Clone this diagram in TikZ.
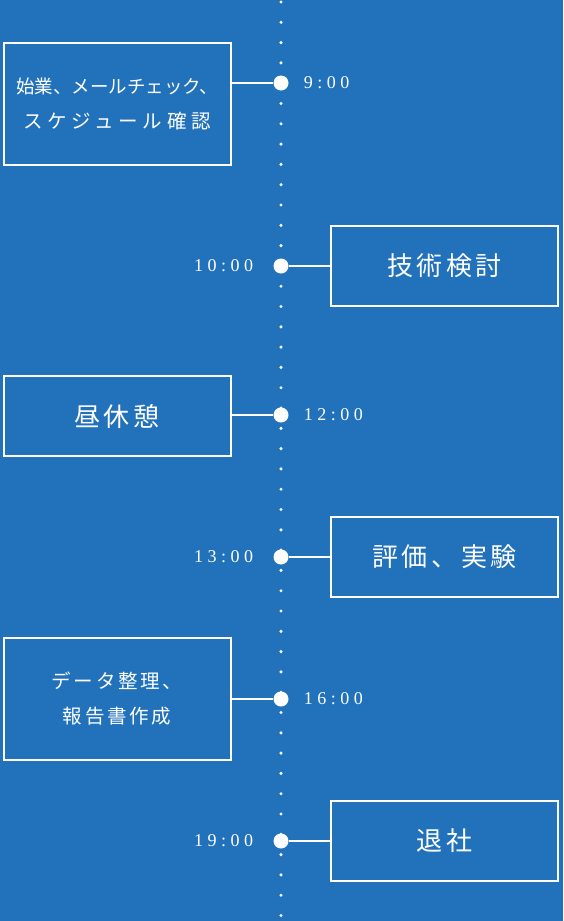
\documentclass[tikz,border=0pt]{standalone}
\usepackage{fontspec}
\usepackage{xcolor}
\setmainfont{Liberation Serif}
\newfontfamily\jpfont[LetterSpace=14]{Noto Sans CJK JP}
\newfontfamily\jptight{Noto Sans CJK JP}
\newfontfamily\jpwide[LetterSpace=24]{Noto Sans CJK JP}
\newfontfamily\timefont[LetterSpace=25]{Liberation Serif}
\definecolor{bgblue}{RGB}{34,114,187}
\usetikzlibrary{positioning}

\begin{document}
\begin{tikzpicture}[x=1pt,y=-1pt,
    box/.style={draw=white,line width=2pt,minimum width=227pt,minimum height=80pt,inner sep=0pt,
        text=white,align=center,font=\jpfont\fontsize{26}{30}\selectfont},
    tallbox/.style={box,minimum height=122pt,font=\jpfont\fontsize{19.5}{35}\selectfont},
    stop/.style={circle,fill=white,inner sep=0pt,minimum size=15pt},
    time/.style={text=white,inner sep=0pt,font=\timefont\fontsize{18}{20}\selectfont},
    link/.style={draw=white,line width=1.8pt}]
	% background and time line
	\fill[bgblue] (0,0) rectangle (563,921);
	\foreach \y in {0,...,45}
		\fill[white] (281,2+20.3*\y) circle (1.7pt);
	
	% stops on the line
	\node[stop] (t9) at (281,83) {};
	\node[stop] (t10) at (281,266) {};
	\node[stop] (t12) at (281,415) {};
	\node[stop] (t13) at (281,557) {};
	\node[stop] (t16) at (281,699) {};
	\node[stop] (t19) at (281,841) {};
	
	\node[time,right=15pt of t9] (l9) {9:00};
	\node[time,left=20pt of t10] (l10) {10:00};
	\node[time,right=15pt of t12] (l12) {12:00};
	\node[time,left=20pt of t13] (l13) {13:00};
	\node[time,right=15pt of t16] (l16) {16:00};
	\node[time,left=20pt of t19] (l19) {19:00};
	
	% tasks
	\node[tallbox] (b9) at (117,104) {{\jptight\fontsize{18.5}{35}\selectfont 始業、メールチェック、}\\
		{\jpwide\fontsize{19.5}{35}\selectfont スケジュール確認}};
	\node[box] (b10) at (444.5,265.5) {技術検討};
	\node[box] (b12) at (117,416) {昼休憩};
	\node[box] (b13) at (444.5,557) {評価、実験};
	\node[tallbox] (b16) at (117,699) {データ整理、\\報告書作成};
	\node[box] (b19) at (444.5,841) {退社};
	
	\draw[link] (b9.east |- t9) -- (t9);
	\draw[link] (t10) -- (b10.west |- t10);
	\draw[link] (b12.east |- t12) -- (t12);
	\draw[link] (t13) -- (b13.west |- t13);
	\draw[link] (b16.east |- t16) -- (t16);
	\draw[link] (t19) -- (b19.west |- t19);
\end{tikzpicture}
\end{document}
